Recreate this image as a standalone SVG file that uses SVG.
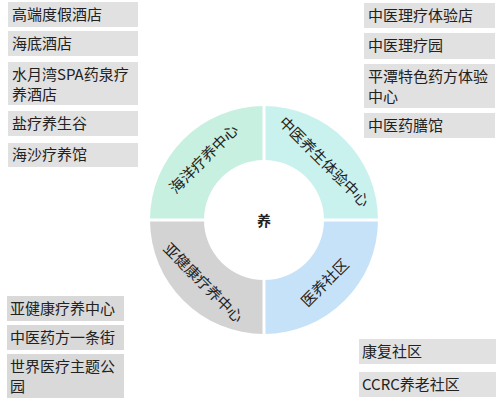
<svg xmlns="http://www.w3.org/2000/svg" width="500" height="404" viewBox="0 0 500 404">
<style>
.box{fill:#e1e1e1}
.boxd{fill:#d9d9d9}
.t{font-family:"Noto Sans CJK SC","Liberation Sans",sans-serif;font-size:15px;fill:#222}
.q{font-family:"Noto Sans CJK SC","Liberation Sans",sans-serif;font-size:15px;fill:#222;text-anchor:middle;dominant-baseline:central}
</style>
<rect width="500" height="404" fill="#fff"/>
<g id="donut">
<path id="q-tl" d="M150 220 A114 114 0 0 1 264 106 L264 160 A60 60 0 0 0 204 220 Z" fill="#c7f0e1"/>
<path id="q-tr" d="M264 106 A114 114 0 0 1 378 220 L324 220 A60 60 0 0 0 264 160 Z" fill="#c9f2ee"/>
<path id="q-br" d="M378 220 A114 114 0 0 1 264 334 L264 280 A60 60 0 0 0 324 220 Z" fill="#c6e2f8"/>
<path id="q-bl" d="M264 334 A114 114 0 0 1 150 220 L204 220 A60 60 0 0 0 264 280 Z" fill="#d3d3d3"/>
<line x1="264" y1="102" x2="264" y2="338" stroke="#fff" stroke-width="3"/>
<line x1="146" y1="220" x2="382" y2="220" stroke="#fff" stroke-width="3"/>
<text class="q" transform="translate(203,158) rotate(-45)">海洋疗养中心</text>
<text class="q" transform="translate(325,161) rotate(45)">中医养生体验中心</text>
<text class="q" transform="translate(204,282) rotate(45)">亚健康疗养中心</text>
<text class="q" transform="translate(324,282) rotate(-45)">医养社区</text>
<text class="q" x="264" y="220" style="font-weight:bold;font-size:14px">养</text>
</g>
<g id="left-top">
<g id="n1"><rect class="box" x="8" y="2" width="130" height="25"/><text class="t" x="12" y="20">高端度假酒店</text></g>
<g id="n2"><rect class="box" x="8" y="31" width="130" height="25"/><text class="t" x="12" y="49">海底酒店</text></g>
<g id="n3"><rect class="box" x="8" y="62" width="130" height="43"/><text class="t" x="12" y="80">水月湾SPA药泉疗</text><text class="t" x="12" y="100">养酒店</text></g>
<g id="n4"><rect class="box" x="8" y="111" width="130" height="25"/><text class="t" x="12" y="129">盐疗养生谷</text></g>
<g id="n5"><rect class="box" x="8" y="143" width="130" height="24"/><text class="t" x="12" y="160">海沙疗养馆</text></g>
</g>
<g id="right-top">
<g id="n6"><rect class="box" x="364" y="3" width="131" height="25"/><text class="t" x="368" y="21">中医理疗体验店</text></g>
<g id="n7"><rect class="box" x="364" y="33" width="131" height="26"/><text class="t" x="368" y="51">中医理疗园</text></g>
<g id="n8"><rect class="box" x="364" y="64" width="131" height="44"/><text class="t" x="368" y="82">平潭特色药方体验</text><text class="t" x="368" y="102">中心</text></g>
<g id="n9"><rect class="box" x="364" y="113" width="131" height="25"/><text class="t" x="368" y="131">中医药膳馆</text></g>
</g>
<g id="left-bottom">
<g id="n10"><rect class="boxd" x="7" y="296" width="117" height="25"/><text class="t" x="10" y="314">亚健康疗养中心</text></g>
<g id="n11"><rect class="boxd" x="7" y="325" width="117" height="25"/><text class="t" x="10" y="343">中医药方一条街</text></g>
<g id="n12"><rect class="boxd" x="7" y="354" width="117" height="44"/><text class="t" x="10" y="372">世界医疗主题公</text><text class="t" x="10" y="392">园</text></g>
</g>
<g id="right-bottom">
<g id="n13"><rect class="box" x="359" y="339" width="137" height="25"/><text class="t" x="362" y="357">康复社区</text></g>
<g id="n14"><rect class="box" x="359" y="372" width="137" height="25"/><text class="t" x="362" y="390">CCRC养老社区</text></g>
</g>
<g id="connectors"></g>
</svg>
